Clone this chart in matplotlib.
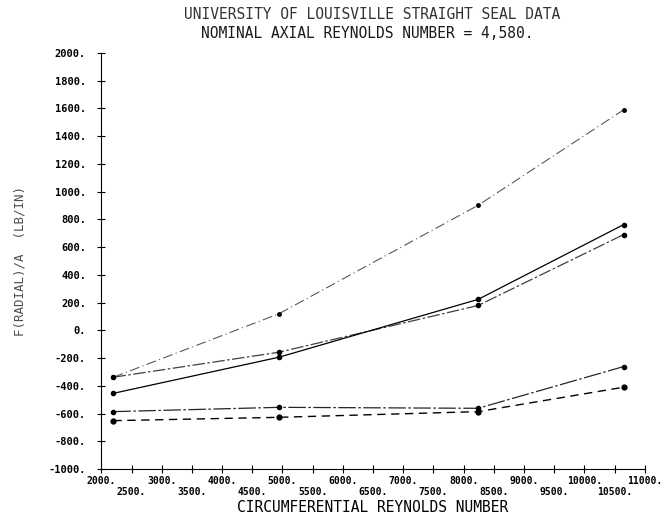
import numpy as np
import matplotlib.pyplot as plt

# circumferential Reynolds numbers of the test points
re_circ = [2200, 4940, 8240, 10650]

# radial force per unit area for each run
run_a = [-337, 120, 902, 1590]
run_b = [-337, -157, 180, 691]
run_c = [-453, -193, 224, 763]
run_d = [-585, -554, -561, -260]
run_e = [-650, -626, -585, -409]

x_major = list(range(2000, 11001, 1000))
x_minor = list(range(2500, 10501, 1000))
y_ticks = list(range(-1000, 2001, 200))

title1 = "UNIVERSITY OF LOUISVILLE STRAIGHT SEAL DATA"
title2 = "NOMINAL AXIAL REYNOLDS NUMBER = 4,580."
xlab = "CIRCUMFERENTIAL REYNOLDS NUMBER"
ylab = "F(RADIAL)/A  (LB/IN)"

mono = "DejaVu Sans Mono"

fig = plt.figure(figsize=(6.71, 5.29), dpi=100)
ax = fig.add_axes([0.151, 0.113, 0.810, 0.787])

ax.plot(re_circ, run_a, color="0.35", lw=0.8, dashes=(9, 3, 1, 3),
        marker="o", ms=2.5, mfc="k", mec="k")
ax.plot(re_circ, run_b, color="0.25", lw=0.9, dashes=(10, 2, 2, 2),
        marker="o", ms=3, mfc="k", mec="k")
ax.plot(re_circ, run_c, color="k", lw=0.9, ls="-",
        marker="o", ms=3, mfc="k", mec="k")
ax.plot(re_circ, run_d, color="0.15", lw=0.9, dashes=(14, 2, 2, 2),
        marker="o", ms=3, mfc="k", mec="k")
ax.plot(re_circ, run_e, color="k", lw=1.0, dashes=(6, 4),
        marker="o", ms=3.5, mfc="k", mec="k")

ax.set_xlim(2000, 11000)
ax.set_ylim(-1000, 2000)

# two staggered rows of x labels
ax.set_xticks(x_major)
ax.set_xticklabels(["%d." % t for t in x_major], fontfamily=mono,
                   fontweight="bold", fontsize=7)
ax.set_xticks(x_minor, minor=True)
ax.set_xticklabels(["%d." % t for t in x_minor], minor=True, fontfamily=mono,
                   fontweight="bold", fontsize=7)
ax.set_yticks(y_ticks)
ax.set_yticklabels(["%d." % t for t in y_ticks], fontfamily=mono,
                   fontweight="bold", fontsize=7.5)

ax.tick_params(which="both", direction="inout", length=6, width=0.8, pad=2)
ax.tick_params(axis="x", which="minor", pad=10)
ax.tick_params(axis="y", pad=8)
for s in ["top", "right"]:
    ax.spines[s].set_visible(False)
for s in ["left", "bottom"]:
    ax.spines[s].set_linewidth(0.8)

ax.set_xlabel(xlab, fontfamily=mono, fontsize=10.5, labelpad=2)
ax.set_ylabel(ylab, fontfamily=mono, fontsize=9, color="0.3", labelpad=16)

fig.text(0.555, 0.972, title1, ha="center", va="center",
         fontfamily=mono, fontsize=10.5, color="0.2")
fig.text(0.547, 0.937, title2, ha="center", va="center",
         fontfamily=mono, fontsize=10.5, color="0.1")

fig.savefig("out.png", dpi=100)
